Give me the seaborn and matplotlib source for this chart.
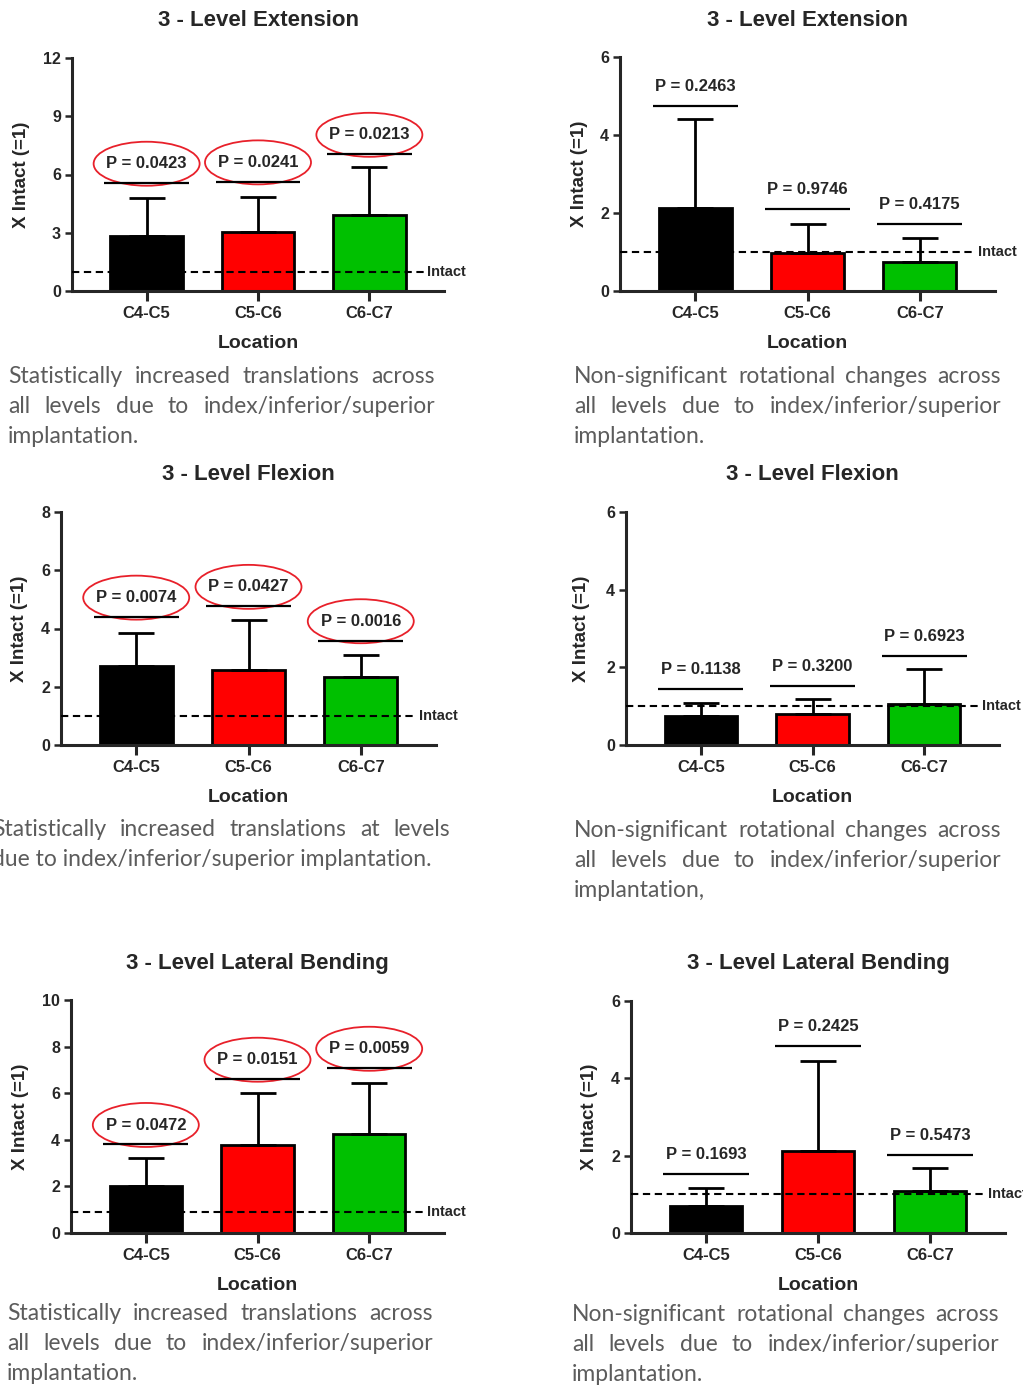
import matplotlib
matplotlib.use("Agg")
import matplotlib.pyplot as plt
import matplotlib.transforms as mtransforms
from matplotlib.patches import Ellipse
import seaborn as sns

locations = ["C4-C5", "C5-C6", "C6-C7"]
bar_colors = ["#000000", "#FF0000", "#00C000"]

# extension
ext_trans_mean = [2.84, 3.05, 3.90]
ext_trans_sd = [1.95, 1.80, 2.49]
ext_trans_bracket = [5.55, 5.62, 7.04]
ext_trans_p = ["0.0423", "0.0241", "0.0213"]

ext_rot_mean = [2.12, 0.97, 0.75]
ext_rot_sd = [2.30, 0.75, 0.62]
ext_rot_bracket = [4.75, 2.10, 1.73]
ext_rot_p = ["0.2463", "0.9746", "0.4175"]

# flexion
flex_trans_mean = [2.72, 2.56, 2.35]
flex_trans_sd = [1.14, 1.72, 0.74]
flex_trans_bracket = [4.39, 4.76, 3.58]
flex_trans_p = ["0.0074", "0.0427", "0.0016"]

flex_rot_mean = [0.75, 0.79, 1.05]
flex_rot_sd = [0.32, 0.40, 0.90]
flex_rot_bracket = [1.44, 1.53, 2.30]
flex_rot_p = ["0.1138", "0.3200", "0.6923"]

# lateral bending
lat_trans_mean = [2.00, 3.79, 4.26]
lat_trans_sd = [1.21, 2.24, 2.17]
lat_trans_bracket = [3.80, 6.60, 7.07]
lat_trans_p = ["0.0472", "0.0151", "0.0059"]

lat_rot_mean = [0.71, 2.11, 1.09]
lat_rot_sd = [0.45, 2.34, 0.59]
lat_rot_bracket = [1.52, 4.84, 2.01]
lat_rot_p = ["0.1693", "0.2425", "0.5473"]

titles = ["3 - Level Extension", "3 - Level Extension",
          "3 - Level Flexion", "3 - Level Flexion",
          "3 - Level Lateral Bending", "3 - Level Lateral Bending"]
y_max = [12, 6, 8, 6, 10, 6]
y_step = [3, 2, 2, 2, 2, 2]
intact_level = [1.0, 1.0, 1.0, 1.0, 0.9, 1.0]
circled = [True, False, True, False, True, False]

caption_trans = ["Statistically increased translations across",
                 "all levels due to index/inferior/superior",
                 "implantation."]
caption_flex = ["Statistically increased translations at levels",
                "due to index/inferior/superior implantation."]
caption_rot = ["Non-significant rotational changes across",
               "all levels due to index/inferior/superior",
               "implantation."]
caption_rot_flex = ["Non-significant rotational changes across",
                    "all levels due to index/inferior/superior",
                    "implantation,"]

panels = [
    (ext_trans_mean, ext_trans_sd, ext_trans_bracket, ext_trans_p, caption_trans),
    (ext_rot_mean, ext_rot_sd, ext_rot_bracket, ext_rot_p, caption_rot),
    (flex_trans_mean, flex_trans_sd, flex_trans_bracket, flex_trans_p, caption_flex),
    (flex_rot_mean, flex_rot_sd, flex_rot_bracket, flex_rot_p, caption_rot_flex),
    (lat_trans_mean, lat_trans_sd, lat_trans_bracket, lat_trans_p, caption_trans),
    (lat_rot_mean, lat_rot_sd, lat_rot_bracket, lat_rot_p, caption_rot),
]

# layout in pixels (x0, y0, x1, y1) measured from the top left
axes_px = [(72, 58, 444, 291), (620, 57, 995, 291),
           (61, 512, 436, 745), (626, 512, 999, 745),
           (71, 1000, 444, 1233), (631, 1001, 1005, 1233)]
ylabel_off = [51, 41, 41, 44, 50, 42]
# x0, x1, first baseline, font size
caption_box = [(8, 435, 383, 16.5), (574, 1001, 383, 16.5),
               (-8, 450, 836, 16.5), (574, 1001, 837, 16.5),
               (7, 433, 1320, 16.5), (572, 999, 1321, 16.5)]

sns.set_style("ticks")
plt.rcParams['font.family'] = ['Liberation Sans', 'DejaVu Sans']
plt.rcParams['axes.linewidth'] = 2.2

W, H = 1023, 1385
fig = plt.figure(figsize=(W / 100, H / 100), dpi=100)
fig.patch.set_facecolor("white")
renderer = fig.canvas.get_renderer()


def add_caption(lines, x0, x1, y_base, size):
    for i, line in enumerate(lines):
        y = 1 - (y_base + i * 30) / H
        kw = dict(fontsize=size, color="#5c5c5c", family=["Lato", "DejaVu Sans"],
                  va="baseline")
        if i == len(lines) - 1:
            fig.text(x0 / W, y, line, **kw)
            continue
        words = line.split()
        texts = [fig.text(0, y, w, **kw) for w in words]
        widths = [t.get_window_extent(renderer).width for t in texts]
        gap = (x1 - x0 - sum(widths)) / (len(words) - 1)
        x = x0
        for t, w in zip(texts, widths):
            t.set_x(x / W)
            x += w + gap


for k, (means, sds, brackets, pvals, caption) in enumerate(panels):
    x0, y0, x1, y1 = axes_px[k]
    ax = fig.add_axes([x0 / W, 1 - y1 / H, (x1 - x0) / W, (y1 - y0) / H])
    w_px, h_px = x1 - x0, y1 - y0

    sns.barplot(x=locations, y=means, hue=locations, palette=bar_colors, legend=False,
                saturation=1, edgecolor="black", linewidth=2, width=0.65, errorbar=None,
                ax=ax, zorder=2)
    ax.errorbar(range(3), means, yerr=[[0, 0, 0], sds], fmt="none", ecolor="black",
                elinewidth=2, capsize=13, capthick=2, zorder=3)

    ax.set_xlim(-0.67, 2.67)
    ax.set_ylim(0, y_max[k])
    ax.set_yticks(range(0, y_max[k] + 1, y_step[k]))
    sns.despine(ax=ax)
    ax.tick_params(axis="x", direction="out", length=7, width=2.2, pad=4, labelsize=12)
    ax.tick_params(axis="y", direction="out", length=5, width=1.8, pad=3, labelsize=11.5)
    for lab in ax.get_xticklabels() + ax.get_yticklabels():
        lab.set_fontweight("bold")

    # intact reference
    ax.hlines(intact_level[k], -0.67, 2.5, colors="black", linestyles=(0, (3.5, 2.2)),
              linewidth=1.5, zorder=4)
    ax.text(2.52, intact_level[k], "Intact", fontsize=10.5, fontweight="bold",
            ha="left", va="center", clip_on=False)

    # p-value brackets
    for i in range(3):
        ax.hlines(brackets[i], i - 0.38, i + 0.38, colors="black", linewidth=1.6)
        ax.annotate(f"P = {pvals[i]}", xy=(i, brackets[i]), xytext=(0, 14),
                    textcoords="offset points", ha="center", va="center",
                    fontsize=12, fontweight="bold")
        if circled[k]:
            tr = fig.dpi_scale_trans + mtransforms.ScaledTranslation(i, brackets[i], ax.transData)
            ax.add_patch(Ellipse((0, 0.195), 1.06, 0.44, transform=tr, fill=False,
                                 edgecolor="#E8202A", linewidth=1.3, clip_on=False))

    ax.text(0.5, 1 + 37 / h_px, titles[k], transform=ax.transAxes, ha="center", va="center",
            fontsize=16, fontweight="bold")
    ax.set_xlabel("")
    ax.text(0.5, -52 / h_px, "Location", transform=ax.transAxes, ha="center", va="center",
            fontsize=14, fontweight="bold")
    ax.set_ylabel("X Intact (=1)", fontsize=13.5, fontweight="bold", va="center")
    ax.yaxis.set_label_coords(-ylabel_off[k] / w_px, 0.5)

    cx0, cx1, cy, csize = caption_box[k]
    add_caption(caption, cx0, cx1, cy, csize)

fig.savefig("out.png", dpi=100, facecolor="white")
